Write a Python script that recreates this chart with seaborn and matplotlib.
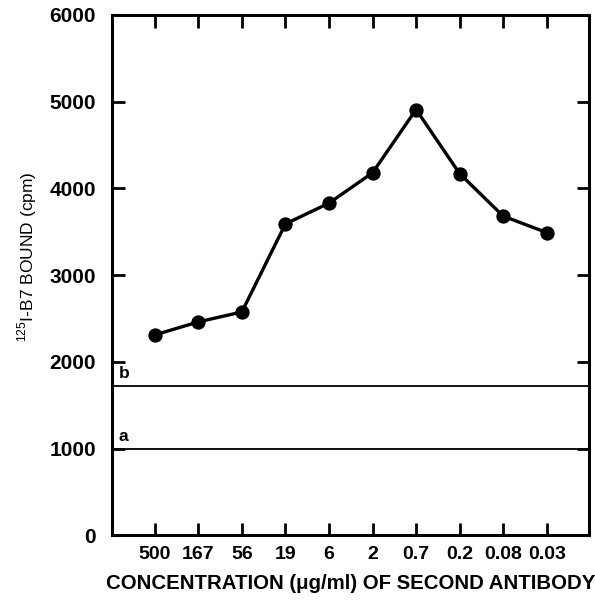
import matplotlib
matplotlib.use("Agg")
import matplotlib.pyplot as plt
import seaborn as sns
import pandas as pd

concentrations = ["500", "167", "56", "19", "6", "2", "0.7", "0.2", "0.08", "0.03"]
cpm_bound = [2310, 2460, 2575, 3590, 3830, 4180, 4910, 4170, 3680, 3490]
baseline_labels = ["a", "b"]
baseline_values = [990, 1720]
y_ticks = [0, 1000, 2000, 3000, 4000, 5000, 6000]

sns.set_style("white")
plt.rcParams['font.family'] = ['Liberation Sans', 'DejaVu Sans']
plt.rcParams['mathtext.fontset'] = 'custom'
plt.rcParams['mathtext.rm'] = 'Liberation Sans'
plt.rcParams['text.color'] = 'black'
plt.rcParams['axes.labelcolor'] = 'black'
plt.rcParams['xtick.color'] = 'black'
plt.rcParams['ytick.color'] = 'black'

df = pd.DataFrame({"conc": concentrations, "cpm": cpm_bound})

fig = plt.figure(figsize=(5.95, 6.0), dpi=100)
ax = fig.add_axes([0.189, 0.108, 0.801, 0.867])

sns.pointplot(data=df, x="conc", y="cpm", order=concentrations, color="black",
              markers="o", markersize=8.5, linewidth=2.4, ax=ax)

for lab, val in zip(baseline_labels, baseline_values):
    ax.axhline(val, color="black", lw=1.3, zorder=1)
    ax.text(-0.82, val + 60, lab, fontsize=12.5, fontweight="bold", ha="left", va="bottom")

ax.set_xlim(-0.97, 9.97)
ax.set_ylim(0, 6000)
ax.set_yticks(y_ticks)
ax.set_yticklabels([str(t) for t in y_ticks], fontsize=15, fontweight="bold")
ax.set_xticks(range(len(concentrations)))
ax.set_xticklabels(concentrations, fontsize=14, fontweight="bold")

ax.tick_params(axis="both", direction="in", length=9, width=2,
               top=True, right=True, bottom=True, left=True)
ax.tick_params(axis="x", pad=8)
ax.tick_params(axis="y", pad=12)
for s in ax.spines.values():
    s.set_linewidth(2.2)
    s.set_color("black")

ax.set_xlabel("CONCENTRATION (\u03bcg/ml) OF SECOND ANTIBODY", fontsize=14.7,
              fontweight="bold", labelpad=8)
ax.set_ylabel("$^{\\mathregular{125}}$I-B7 BOUND (cpm)", fontsize=12.5)
ax.yaxis.set_label_coords(-0.155, 0.535)

fig.savefig("out.png", dpi=100)
